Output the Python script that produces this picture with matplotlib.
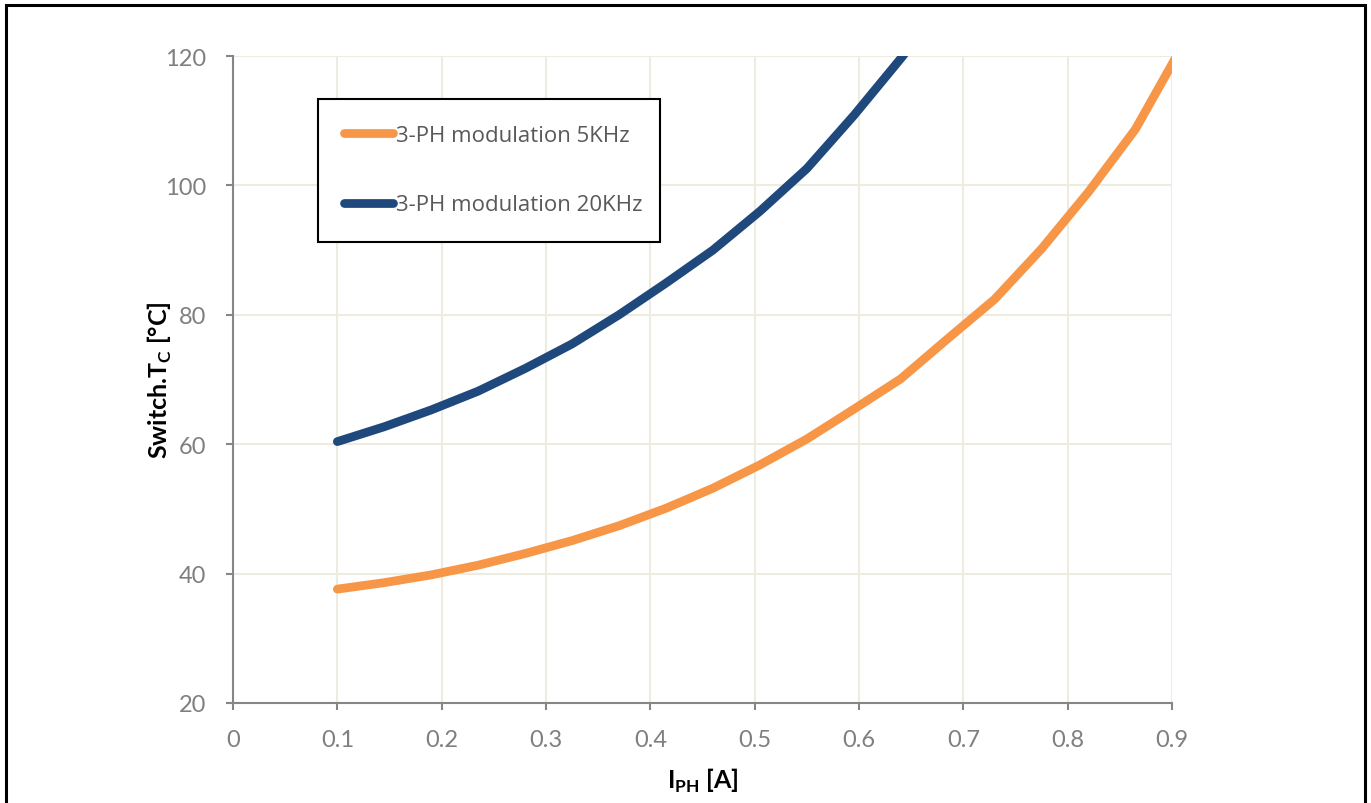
import matplotlib
matplotlib.use('Agg')
import matplotlib.pyplot as plt
from matplotlib.patches import Rectangle

# data
current = [0.1, 0.145, 0.19, 0.235, 0.28, 0.325, 0.37, 0.415, 0.46, 0.505,
           0.55, 0.595, 0.64, 0.685, 0.73, 0.775, 0.82, 0.865, 0.91]
temp_5khz = [37.6, 38.6, 39.8, 41.3, 43.1, 45.1, 47.4, 50.1, 53.2, 56.8,
             60.8, 65.4, 70.1, 76.3, 82.4, 90.2, 99.0, 108.7, 121.6]
temp_20khz = [60.4, 62.7, 65.3, 68.2, 71.7, 75.5, 80.0, 84.9, 90.0, 96.0,
              102.6, 110.8, 119.6, 129.0]

labels = ['3-PH modulation 5KHz', '3-PH modulation 20KHz']
colors = ['#F79646', '#1F497D']
xticks = [0, 0.1, 0.2, 0.3, 0.4, 0.5, 0.6, 0.7, 0.8, 0.9]
yticks = [20, 40, 60, 80, 100, 120]

plt.rcParams['font.family'] = ['Lato', 'DejaVu Sans']
plt.rcParams['mathtext.fontset'] = 'custom'
plt.rcParams['mathtext.rm'] = 'Lato'
plt.rcParams['mathtext.bf'] = 'Lato:bold'

fig = plt.figure(figsize=(13.71, 8.04), dpi=100)
ax = fig.add_axes([233/1371, 1 - 704/804, 939/1371, 647/804])

ax.plot(current, temp_5khz, color=colors[0], lw=6.3, solid_capstyle='round',
        label=labels[0], zorder=3)
ax.plot(current[:len(temp_20khz)], temp_20khz, color=colors[1], lw=6.3,
        solid_capstyle='round', label=labels[1], zorder=3)

ax.set_xlim(0, 0.9)
ax.set_ylim(20, 120)
ax.set_xticks(xticks)
ax.set_xticklabels(['0' if t == 0 else f'{t:g}' for t in xticks])
ax.set_yticks(yticks)
ax.grid(True, color='#EEECE1', lw=1.5, zorder=0)
ax.set_axisbelow(True)

for s in ['top', 'right']:
    ax.spines[s].set_visible(False)
for s in ['left', 'bottom']:
    ax.spines[s].set_color('#868686')
    ax.spines[s].set_linewidth(1.5)
ax.tick_params(axis='both', colors='#868686', width=1.5, length=5,
               labelsize=17, labelcolor='#7F7F7F')
ax.tick_params(axis='x', pad=14)
ax.tick_params(axis='y', pad=14)

ax.set_xlabel(r'I$_{\mathbf{PH}}$ [A]', fontsize=18, fontweight='bold')
ax.set_ylabel(r'Switch.T$_{\mathbf{C}}$ [°C]', fontsize=18, fontweight='bold')
ax.xaxis.set_label_coords(0.5, -0.097)
ax.yaxis.set_label_coords(-0.063, 0.5)
ax.xaxis.label.set_va('top')

leg = ax.legend(loc='upper left', bbox_to_anchor=(0.0905, 0.9335, 0.364, 0),
                mode='expand', borderaxespad=0, frameon=True, fancybox=False,
                framealpha=1, edgecolor='black', borderpad=1.18,
                labelspacing=2.17, handlelength=2.2, handletextpad=0.15,
                prop={'family': 'Open Sans', 'size': 16})
leg.get_frame().set_linewidth(1.5)
for t in leg.get_texts():
    t.set_color('#595959')

# outer frame of the picture
fig.add_artist(Rectangle((5.5/1371, -0.05), 1359/1371, 1.05 - 5.5/804,
                         transform=fig.transFigure, fill=False,
                         edgecolor='black', lw=2.2, clip_on=False))

fig.savefig('out.png', dpi=100)
